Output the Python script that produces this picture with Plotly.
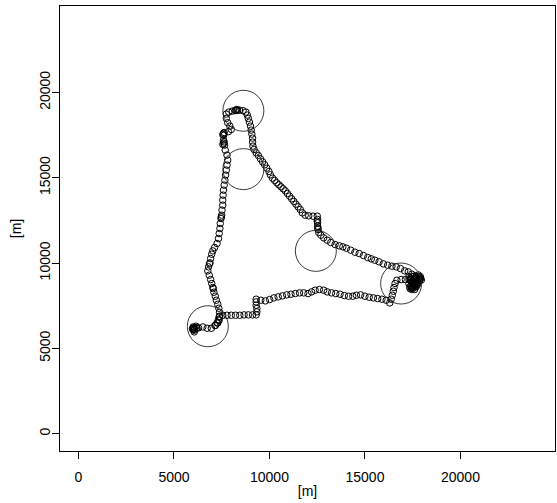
import plotly.graph_objects as go

# GPS track positions [m]
path_x = [5972, 6047, 6009, 6102, 6065, 6158, 5990, 6030, 6080, 6195,
          6288, 6512, 6735, 6958, 7144, 7256, 7330, 7368,
          7554, 7777, 8000, 8223, 8447, 8670, 8893, 9116, 9303,
          9340, 9340, 9303, 9303, 9303,
          9544, 9786, 10009, 10233, 10456, 10679, 10903, 11126, 11349, 11572, 11796, 12019,
          12205, 12391, 12614, 12837, 13024, 13247, 13470, 13693, 13917, 14140, 14363, 14549,
          14772, 14996, 15219, 15442, 15665, 15889, 16112, 16298,
          16372, 16428, 16484, 16521, 16577, 16670,
          16893, 17117, 17303,
          17451, 17545, 17638, 17731, 17824, 17917, 17451, 17358, 17638, 17545, 17731, 17824,
          17300, 17400, 17500, 17600, 17700, 17800, 17900, 17850, 17750, 17650, 17550, 17400,
          17300, 17450, 17600,
          17480, 17520, 17580, 17620, 17680, 17720, 17760, 17820, 17860, 17700, 17600, 17500,
          17420, 17380, 17350, 17900, 17950, 17680, 17560, 17480,
          17451, 17265, 17079, 16856, 16633, 16409, 16186, 15963, 15740, 15517, 15331, 15144,
          14921, 14698, 14474, 14251, 14028, 13842, 13656, 13433, 13210, 13024, 12837, 12689,
          12577, 12540,
          12521, 12521, 12521, 12502, 12540, 12500,
          12279, 12056, 11870,
          11721, 11610, 11498, 11386, 11274, 11163, 11051, 10940, 10828, 10716, 10605, 10493,
          10381, 10270, 10158, 10047, 9972, 9861, 9749, 9637, 9526, 9414, 9303, 9191, 9135,
          9116, 9116, 9079, 9042, 9005, 8949, 8893, 8837, 8763,
          8614, 8428, 8242, 8200, 8280, 8330, 8056, 7870, 7740,
          7740, 7814, 7926, 8000, 7850,
          7591, 7560, 7630, 7600, 7591, 7628, 7560, 7650, 7600,
          7684, 7777, 7814, 7777, 7740, 7702, 7665, 7628, 7591, 7572, 7554, 7554, 7516, 7498,
          7480, 7461, 7423, 7405, 7368, 7330, 7256, 7126, 7033, 6977, 6921, 6884, 6860, 6809,
          6772, 6847, 6921, 6977, 7033, 7060, 7089, 7163, 7219, 7293, 7349, 7386, 7386, 7368,
          7293, 7182]
path_y = [6158, 6061, 6256, 6217, 5963, 6295, 6100, 6200, 6120, 6197,
          6197, 6256, 6178, 6178, 6334, 6491, 6686, 6843,
          6940, 6940, 6940, 6940, 6940, 6960, 6960, 6960, 6960,
          7136, 7331, 7527, 7722, 7879,
          7820, 7781, 7859, 7957, 8016, 8074, 8133, 8172, 8211, 8250, 8250, 8211,
          8309, 8407, 8446, 8407, 8309, 8250, 8211, 8172, 8094, 8055, 8055, 8113,
          8133, 8055, 7996, 7957, 7918, 7879, 7820, 7664,
          7879, 8113, 8348, 8563, 8798, 8993,
          9032, 9032, 9032,
          8895, 8700, 9091, 8993, 9189, 9091, 8563, 8504, 8798, 8950, 8850, 9000,
          9200, 9100, 9200, 9250, 9150, 9300, 9200, 8950, 8750, 8600, 8550, 8650,
          8800, 8450, 8450,
          8620, 8760, 8680, 8900, 9060, 8820, 8960, 9100, 9050, 8650, 8700, 8820,
          8900, 9000, 8600, 9100, 9000, 9220, 9050, 8540,
          9345, 9482, 9540, 9677, 9775, 9814, 9873, 9951, 10068, 10166, 10244, 10322,
          10440, 10557, 10635, 10753, 10870, 10948, 11007, 11085, 11202, 11339, 11476, 11632,
          11789, 11965,
          12160, 12356, 12551, 12747, 12050, 12450,
          12747, 12766, 12805,
          12942, 13138, 13294, 13450, 13607, 13763, 13920, 14076, 14232, 14350, 14467, 14584,
          14702, 14838, 14975, 15171, 15366, 15562, 15757, 15933, 16109, 16305, 16461, 16657, 16852,
          17087, 17321, 17556, 17791, 18025, 18260, 18475, 18670, 18846,
          18924, 18964, 18964, 18930, 18990, 18950, 18905, 18846, 18729,
          18475, 18221, 18025, 17830, 17700,
          17595, 17530, 17650, 17480, 17204, 17100, 16950, 16911, 17020,
          16618, 16324, 16031, 15738, 15445, 15151, 14858, 14565, 14272, 13978, 13685, 13392, 13099, 12805,
          12700, 12610, 12317, 12023, 11730, 11437, 11144, 10909, 10713, 10518, 10264, 10010, 9950, 9775,
          9540, 9286, 9032, 8798, 8563, 8500, 8289, 8055, 7820, 7585, 7351, 7116, 6882, 6647,
          6491, 6354]

# Circle centres [m]
circle_x = [8633, 8633, 12428, 16893, 6772]
circle_y = [18924, 15503, 10713, 8798, 6295]

xticks = [0, 5000, 10000, 15000, 20000]
yticks = [0, 5000, 10000, 15000, 20000]
axis_title = "[m]"

font = dict(family="Liberation Sans, Arial, sans-serif", size=14, color="black")

fig = go.Figure()
fig.add_trace(go.Scatter(
    x=path_x, y=path_y, mode="markers",
    marker=dict(symbol="circle-open", size=6.5, color="black", line=dict(width=1)),
    hoverinfo="skip"))
fig.add_trace(go.Scatter(
    x=circle_x, y=circle_y, mode="markers",
    marker=dict(symbol="circle-open", size=41, color="#222222", line=dict(width=0.9)),
    hoverinfo="skip"))

axis_common = dict(
    showgrid=False, zeroline=False, showline=True, mirror=True,
    linecolor="black", linewidth=1, ticks="outside", ticklen=7,
    tickcolor="black", tickwidth=1, tickfont=font,
)

fig.update_layout(
    width=557, height=503,
    margin=dict(l=60, r=2, t=6, b=52, pad=0),
    plot_bgcolor="white", paper_bgcolor="white",
    showlegend=False, font=font,
    xaxis=dict(range=[-967, 24949], tickvals=xticks,
               ticktext=[str(v) for v in xticks], ticklabelstandoff=6,
               title=dict(text=axis_title, font=font, standoff=2), **axis_common),
    yaxis=dict(range=[-1017, 25064], tickvals=yticks,
               ticktext=[str(v) for v in yticks], tickangle=-90, ticklabelstandoff=-4,
               title=dict(text=axis_title, font=font, standoff=12), **axis_common),
)

fig.write_html("out.html")
